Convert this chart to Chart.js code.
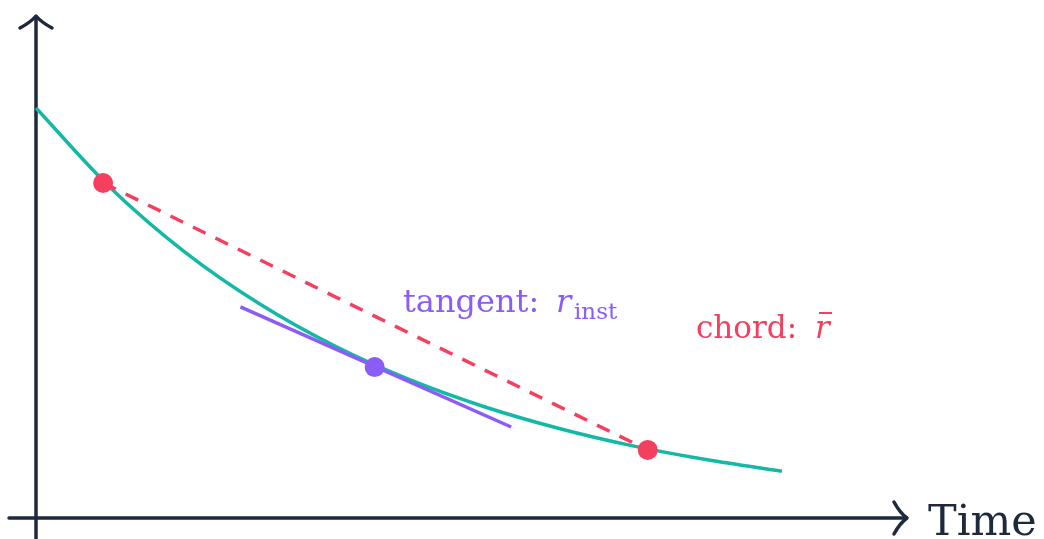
<!DOCTYPE html>
<html>
<head>
<meta charset="utf-8">
<script src="https://cdn.jsdelivr.net/npm/chart.js@4"></script>
<style>
  html, body { margin: 0; padding: 0; background: #fff; }
  canvas { display: block; }
</style>
</head>
<body>
<canvas id="rates" width="1044" height="539"></canvas>
<script>
  // concentration curve, sampled at whole time units
  const curveTimes = [0, 1, 2, 3, 4, 5, 6, 7, 8, 9, 10];
  const curveValues = [10, 8.05, 6.48, 5.22, 4.2, 3.38, 2.72, 2.19, 1.76, 1.42, 1.14];

  // chord between two points on the curve
  const chordTimes = [0.9, 8.2];
  const chordValues = [8.17, 1.66];

  // tangent through the middle point
  const tangentPoint = { x: 4.54, y: 3.68 };
  const tangentTimes = [2.74, 6.37];
  const tangentValues = [5.15, 2.22];

  const teal = '#14b8a6';
  const red = '#f43f5e';
  const purple = '#8b5cf6';
  const ink = '#1e293b';

  const toXY = (xs, ys) => xs.map((x, i) => ({ x: x, y: ys[i] }));

  // arrowed axes and the text labels
  const decorations = {
    id: 'decorations',
    beforeDatasetsDraw(chart) {
      const ctx = chart.ctx;
      const x0 = chart.scales.x.getPixelForValue(0);
      const y0 = chart.scales.y.getPixelForValue(0);
      ctx.save();
      ctx.strokeStyle = ink;
      ctx.lineWidth = 3.5;
      ctx.lineCap = 'round';
      ctx.lineJoin = 'round';
      // y axis
      ctx.beginPath();
      ctx.moveTo(x0, 539);
      ctx.lineTo(x0, 17);
      ctx.stroke();
      ctx.beginPath();
      ctx.moveTo(x0 - 16, 28);
      ctx.quadraticCurveTo(x0 - 5, 22, x0, 16);
      ctx.quadraticCurveTo(x0 + 5, 22, x0 + 16, 28);
      ctx.stroke();
      // x axis
      ctx.beginPath();
      ctx.moveTo(9, y0);
      ctx.lineTo(906, y0);
      ctx.stroke();
      ctx.beginPath();
      ctx.moveTo(894, y0 - 16);
      ctx.quadraticCurveTo(900, y0 - 5, 907, y0);
      ctx.quadraticCurveTo(900, y0 + 5, 894, y0 + 16);
      ctx.stroke();
      ctx.restore();
    },
    afterDatasetsDraw(chart) {
      const ctx = chart.ctx;
      ctx.save();
      ctx.textBaseline = 'alphabetic';
      ctx.textAlign = 'left';

      ctx.fillStyle = purple;
      ctx.font = '32px "DejaVu Serif"';
      ctx.fillText('tangent:', 403, 312);
      ctx.font = 'italic 32px "DejaVu Serif"';
      ctx.fillText('r', 556, 312);
      ctx.font = '23px "DejaVu Serif"';
      ctx.fillText('inst', 574, 319);

      ctx.fillStyle = red;
      ctx.font = '31px "DejaVu Serif"';
      ctx.fillText('chord:', 696, 338);
      ctx.font = 'italic 31px "DejaVu Serif"';
      ctx.fillText('r', 815, 338);
      ctx.fillRect(819, 312, 13, 2);

      ctx.fillStyle = ink;
      ctx.font = '43px "DejaVu Serif"';
      ctx.fillText('Time', 928, 535);
      ctx.restore();
    }
  };

  new Chart(document.getElementById('rates'), {
    type: 'scatter',
    data: {
      datasets: [
        {
          label: 'chord ends',
          data: toXY(chordTimes, chordValues),
          backgroundColor: red,
          borderWidth: 0,
          pointRadius: 10,
          showLine: false
        },
        {
          label: 'tangent point',
          data: [tangentPoint],
          backgroundColor: purple,
          borderWidth: 0,
          pointRadius: 10,
          showLine: false
        },
        {
          label: 'chord',
          data: toXY(chordTimes, chordValues),
          borderColor: red,
          borderWidth: 3.5,
          borderDash: [14, 11],
          pointRadius: 0,
          showLine: true
        },
        {
          label: 'tangent',
          data: toXY(tangentTimes, tangentValues),
          borderColor: purple,
          borderWidth: 3.5,
          pointRadius: 0,
          showLine: true
        },
        {
          label: 'curve',
          data: toXY(curveTimes, curveValues),
          borderColor: teal,
          borderWidth: 3.5,
          pointRadius: 0,
          showLine: true,
          cubicInterpolationMode: 'monotone'
        }
      ]
    },
    options: {
      responsive: false,
      animation: false,
      layout: { padding: 0, autoPadding: false },
      plugins: {
        legend: { display: false },
        tooltip: { enabled: false }
      },
      scales: {
        x: { type: 'linear', display: false, min: -0.4826, max: 13.512 },
        y: { type: 'linear', display: false, min: -0.512, max: 12.634 }
      }
    },
    plugins: [decorations]
  });
</script>
</body>
</html>
